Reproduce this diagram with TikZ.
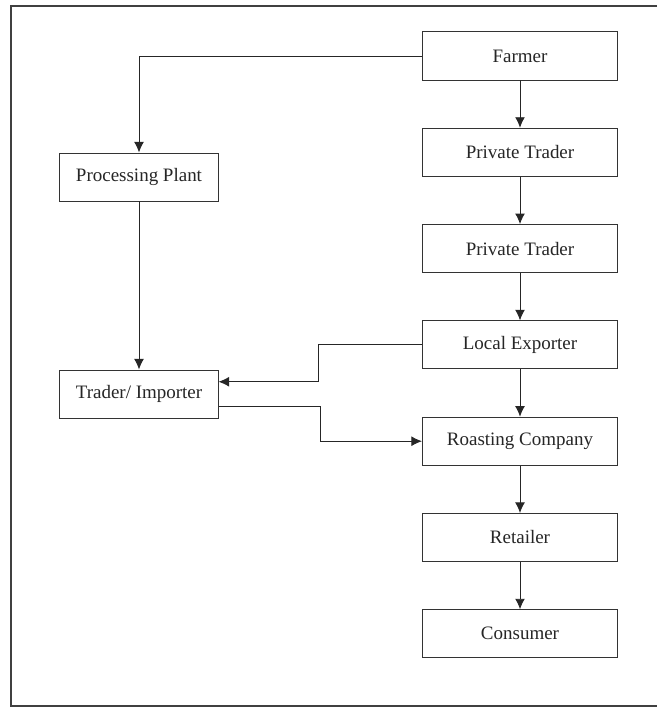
\documentclass[tikz,border=0pt]{standalone}
\usepackage{fontspec}
\setmainfont{Liberation Serif}
\usepackage{tikz}
\usetikzlibrary{arrows.meta,calc}

\tikzset{
  box/.style={draw=black!80, line width=0.7pt, fill=white, text=black!85,
    minimum height=1.2cm, inner sep=2pt, font=\fontsize{13.5}{16}\selectfont},
  rbox/.style={box, minimum width=4.875cm},
  lbox/.style={box, minimum width=3.95cm},
  arr/.style={-{Latex[length=7.5pt,width=7pt]}, line width=0.7pt, draw=black!85}
}

\begin{document}
\begin{tikzpicture}[x=0.025cm,y=-0.025cm]
\useasboundingbox (0,0) rectangle (657,709);
\draw[line width=1.5pt, black!75](657,6) -- (11,6) -- (11,706) -- (657,706);
% supply chain, right column
\foreach \n/\t [count=\i] in {farmer/Farmer, ptA/Private Trader, ptB/Private Trader,
  exporter/Local Exporter, roaster/Roasting Company, retailer/Retailer, consumer/Consumer}
  \node[rbox] (\n) at (520,{56+96.3*(\i-1)}) {\t};
% left column
\node[lbox] (plant) at (139,177) {Processing Plant};
\node[lbox] (trader) at (139,394) {Trader/ Importer};
\coordinate (tin) at ($(trader.east)!0.5!(trader.north east)$);
\coordinate (tout) at ($(trader.east)!0.5!(trader.south east)$);
\foreach \a/\b in {farmer/ptA, ptA/ptB, ptB/exporter, exporter/roaster, roaster/retailer, retailer/consumer}
  \draw[arr] (\a) -- (\b);
\draw[arr] (farmer.west) -| (plant.north);
\draw[arr] (plant) -- (trader);
\draw[arr] (exporter.west) -- ++(-103,0) |- (tin);
\draw[arr] (tout) -- ++(102,0) |- (roaster.west);
\end{tikzpicture}
\end{document}
